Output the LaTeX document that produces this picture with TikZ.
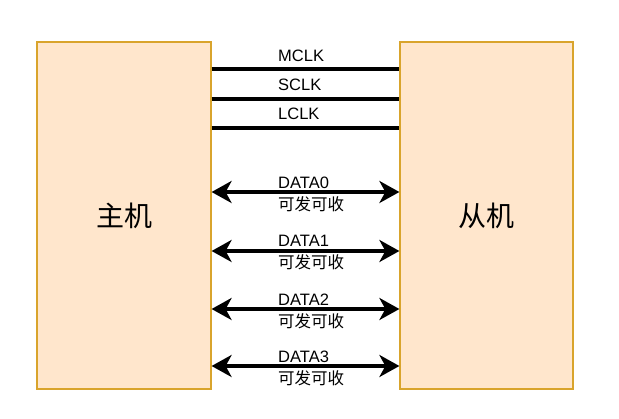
\documentclass[tikz,border=0pt]{standalone}
\usepackage{fontspec}
\setmainfont{Liberation Sans}
\newfontfamily\cjk{Noto Sans CJK SC}
\usetikzlibrary{arrows.meta}
\definecolor{boxfill}{HTML}{FFE6CC}
\definecolor{boxdraw}{HTML}{D9A42C}
\begin{document}
\begin{tikzpicture}[x=1pt,y=-1pt,
  unit/.style={draw=boxdraw, fill=boxfill, line width=1.2pt, minimum width=174pt, minimum height=347pt, inner sep=0pt, font=\cjk\fontsize{28}{32}\selectfont},
  sig/.style={line width=3.5pt},
  bus/.style={line width=3.5pt, {Stealth[length=20pt,width=22pt,inset=6pt]}-{Stealth[length=20pt,width=22pt,inset=6pt]}},
  lbl/.style={anchor=west, inner sep=0pt, font=\fontsize{16.5}{19}\selectfont},
  dlbl/.style={anchor=west, inner sep=0pt, align=left, font=\fontsize{16.5}{22}\selectfont}]
\useasboundingbox (0,0) rectangle (619,419);
\node[unit] (host) at (124,215.5) {主机};
\node[unit, minimum width=173pt] (slave) at (486.5,215.5) {从机};
% clock lines
\foreach \n/\y in {m/69, s/99, l/128}{
  \coordinate (\n a) at (host.east |- 0,\y);
  \coordinate (\n b) at (slave.west |- 0,\y);
}
\draw[sig] (ma) -- (mb);
\draw[sig] (sa) -- (sb);
\draw[sig] (la) -- (lb);
\node[lbl] (tm) at (278,56) {MCLK};
\node[lbl] (ts) at (278,85) {SCLK};
\node[lbl] (tl) at (278,114) {LCLK};
% data buses
\foreach \n/\y in {0/192, 1/251, 2/309, 3/366}{
  \coordinate (d\n a) at (host.east |- 0,\y);
  \coordinate (d\n b) at (slave.west |- 0,\y);
}
\draw[bus] (d0a) -- (d0b);
\draw[bus] (d1a) -- (d1b);
\draw[bus] (d2a) -- (d2b);
\draw[bus] (d3a) -- (d3b);
\node[dlbl] (t0) at (278,194) {DATA0\\{\cjk 可发可收}};
\node[dlbl] (t1) at (278,253) {DATA1\\{\cjk 可发可收}};
\node[dlbl] (t2) at (278,311) {DATA2\\{\cjk 可发可收}};
\node[dlbl] (t3) at (278,368) {DATA3\\{\cjk 可发可收}};
\end{tikzpicture}
\end{document}
